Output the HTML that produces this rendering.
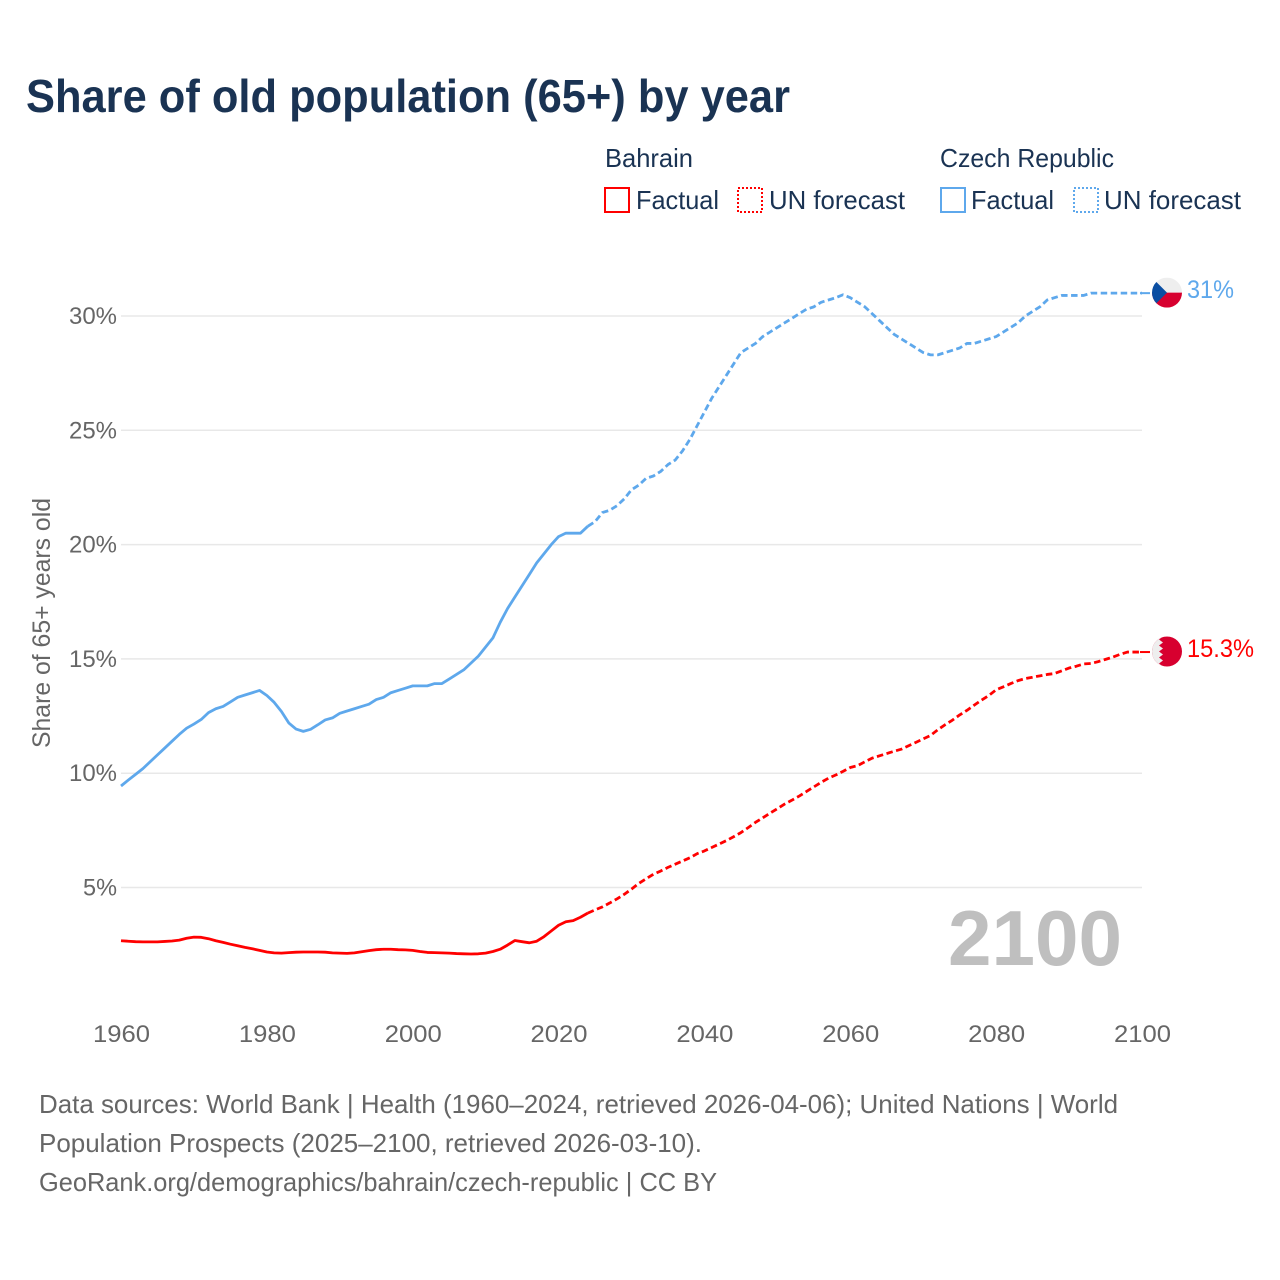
<!DOCTYPE html>
<html lang="en">
<head>
<meta charset="utf-8">
<title>Share of old population (65+) by year</title>
<style>
html,body{margin:0;padding:0;background:#fff;width:1280px;height:1280px;overflow:hidden}
svg{display:block}
text{font-family:"Liberation Sans",sans-serif}
</style>
</head>
<body>
<svg id="chart" xmlns="http://www.w3.org/2000/svg" width="1280" height="1280" viewBox="0 0 1280 1280">
  <rect width="1280" height="1280" fill="#fff"/>
  <text x="26" y="112" font-size="46" font-weight="700" fill="#1a3353" textLength="764" lengthAdjust="spacingAndGlyphs">Share of old population (65+) by year</text>

  <g font-size="26" fill="#1a3353">
    <text x="605" y="167" textLength="88" lengthAdjust="spacingAndGlyphs">Bahrain</text>
    <text x="940" y="167" textLength="174" lengthAdjust="spacingAndGlyphs">Czech Republic</text>
    <rect x="605" y="188" width="24" height="24" fill="none" stroke="#ff0000" stroke-width="2"/>
    <text x="636" y="209" textLength="83" lengthAdjust="spacingAndGlyphs">Factual</text>
    <rect x="738" y="188" width="24" height="24" fill="none" stroke="#ff0000" stroke-width="2" stroke-dasharray="2 2"/>
    <text x="769" y="209" textLength="136" lengthAdjust="spacingAndGlyphs">UN forecast</text>
    <rect x="941" y="188" width="24" height="24" fill="none" stroke="#5ea8ec" stroke-width="2"/>
    <text x="971" y="209" textLength="83" lengthAdjust="spacingAndGlyphs">Factual</text>
    <rect x="1074" y="188" width="24" height="24" fill="none" stroke="#5ea8ec" stroke-width="2" stroke-dasharray="2 2"/>
    <text x="1104" y="209" textLength="137" lengthAdjust="spacingAndGlyphs">UN forecast</text>
  </g>

  <g id="grid"></g>
  <g id="yticks"></g>
  <g id="xticks"></g>
  <text transform="translate(50 623) rotate(-90)" text-anchor="middle" font-size="25" fill="#666" textLength="250" lengthAdjust="spacingAndGlyphs">Share of 65+ years old</text>
  <text x="948" y="965" font-size="78" font-weight="700" fill="#bfbfbf" textLength="174" lengthAdjust="spacingAndGlyphs">2100</text>

  <g id="series"></g>

  <defs>
    <clipPath id="flag-clip"><circle cx="0" cy="0" r="15"/></clipPath>
  </defs>
  <g id="flag-cz">
    <g clip-path="url(#flag-clip)">
      <rect x="-15" y="-15" width="30" height="15" fill="#eeeeee"/>
      <rect x="-15" y="0" width="30" height="15" fill="#d7002f"/>
      <path d="M-15 -15 L0 0 L-15 15 Z" fill="#0b4ea2"/>
    </g>
  </g>
  <g id="flag-bh">
    <g clip-path="url(#flag-clip)">
      <rect x="-15" y="-15" width="30" height="30" fill="#d7002f"/>
      <path d="M-15 -15 H-4 L-8 -12 L-4 -9 L-8 -6 L-4 -3 L-8 0 L-4 3 L-8 6 L-4 9 L-8 12 L-4 15 H-15 Z" fill="#eeeeee"/>
    </g>
  </g>
  <text id="label-cz" x="1187" font-size="25" fill="#5ea8ec" textLength="47" lengthAdjust="spacingAndGlyphs"></text>
  <text id="label-bh" x="1187" font-size="25" fill="#ff0000" textLength="67" lengthAdjust="spacingAndGlyphs"></text>

  <g font-size="26" fill="#666">
    <text x="39" y="1113" textLength="1079" lengthAdjust="spacingAndGlyphs">Data sources: World Bank | Health (1960–2024, retrieved 2026-04-06); United Nations | World</text>
    <text x="39" y="1152" textLength="663" lengthAdjust="spacingAndGlyphs">Population Prospects (2025–2100, retrieved 2026-03-10).</text>
    <text x="39" y="1191" textLength="678" lengthAdjust="spacingAndGlyphs">GeoRank.org/demographics/bahrain/czech-republic | CC BY</text>
  </g>
</svg>
<script>
const startYear = 1960;
const lastFactualYear = 2024;
const yTicks = [5, 10, 15, 20, 25, 30];
const xTicks = [1960, 1980, 2000, 2020, 2040, 2060, 2080, 2100];
const czechValues = [
  9.44, 9.7, 9.95, 10.2, 10.5, 10.8, 11.1, 11.4, 11.7, 11.97,
  12.15, 12.35, 12.65, 12.82, 12.92, 13.12, 13.32, 13.42, 13.52, 13.62,
  13.4, 13.1, 12.7, 12.2, 11.93, 11.83, 11.92, 12.12, 12.33, 12.42,
  12.62, 12.72, 12.82, 12.92, 13.02, 13.22, 13.32, 13.52, 13.62, 13.72,
  13.82, 13.82, 13.82, 13.92, 13.92, 14.12, 14.32, 14.52, 14.82, 15.12,
  15.52, 15.92, 16.6, 17.2, 17.7, 18.2, 18.7, 19.2, 19.6, 20.0,
  20.35, 20.5, 20.5, 20.5, 20.8, 21.0, 21.4, 21.5, 21.7, 22.0,
  22.4, 22.6, 22.9, 23.0, 23.2, 23.5, 23.7, 24.1, 24.6, 25.2,
  25.8, 26.4, 26.9, 27.4, 27.9, 28.4, 28.6, 28.8, 29.1, 29.3,
  29.5, 29.7, 29.9, 30.1, 30.3, 30.4, 30.6, 30.7, 30.8, 30.93,
  30.8, 30.6, 30.4, 30.1, 29.8, 29.5, 29.2, 29.0, 28.8, 28.6,
  28.4, 28.3, 28.3, 28.4, 28.5, 28.6, 28.8, 28.8, 28.9, 29.0,
  29.1, 29.3, 29.5, 29.7, 30.0, 30.2, 30.4, 30.7, 30.8, 30.9,
  30.9, 30.9, 30.9, 31.0, 31.0, 31.0, 31.0, 31.0, 31.0, 31.0,
  31.0
];
const bahrainValues = [
  2.67, 2.65, 2.63, 2.62, 2.62, 2.62, 2.64, 2.66, 2.7, 2.78,
  2.83, 2.82, 2.76, 2.67, 2.6, 2.52, 2.45, 2.38, 2.32, 2.25,
  2.18, 2.14, 2.13, 2.15, 2.17, 2.18, 2.18, 2.18, 2.17, 2.14,
  2.13, 2.12, 2.14, 2.19, 2.24, 2.28, 2.3, 2.3, 2.28, 2.27,
  2.25, 2.2, 2.16, 2.15, 2.14, 2.13, 2.11, 2.1, 2.09, 2.1,
  2.13, 2.2, 2.3, 2.48, 2.68, 2.63, 2.58, 2.65, 2.85, 3.1,
  3.35, 3.5, 3.55, 3.7, 3.88, 4.02, 4.15, 4.32, 4.5, 4.7,
  4.93, 5.18, 5.38, 5.58, 5.72, 5.88, 6.02, 6.16, 6.3, 6.48,
  6.6, 6.75, 6.9, 7.05, 7.22, 7.4, 7.62, 7.85, 8.05, 8.25,
  8.45, 8.65, 8.82, 9.0, 9.2, 9.4, 9.6, 9.78, 9.92, 10.08,
  10.25, 10.33, 10.5, 10.66, 10.76, 10.86, 10.96, 11.05, 11.2, 11.35,
  11.5, 11.65, 11.9, 12.12, 12.32, 12.55, 12.75, 12.98, 13.2, 13.4,
  13.65, 13.78, 13.92, 14.05, 14.14, 14.2, 14.26, 14.32, 14.36, 14.48,
  14.6, 14.68, 14.78, 14.8, 14.88, 14.98, 15.08, 15.2, 15.3, 15.3,
  15.3
];
const czechEndLabel = '31%';
const bahrainEndLabel = '15.3%';

const NS = 'http://www.w3.org/2000/svg';
const X0 = 121, X1 = 1142, YEAR0 = 1960, YEAR1 = 2100;
const Y30 = 316, PER_UNIT = 22.86;
const xScale = function (year) { return X0 + (year - YEAR0) * (X1 - X0) / (YEAR1 - YEAR0); };
const yScale = function (v) { return Y30 + (30 - v) * PER_UNIT; };
const make = function (tag, attrs) {
  const el = document.createElementNS(NS, tag);
  for (const k in attrs) el.setAttribute(k, attrs[k]);
  return el;
};

const grid = document.getElementById('grid');
const yG = document.getElementById('yticks');
yTicks.forEach(function (t) {
  const line = make('line', { x1: X0, x2: X1, y1: yScale(t), y2: yScale(t), stroke: '#e8e8e8', 'stroke-width': 1.5 });
  
  
  grid.appendChild(line);
  const label = t + '%';
  const lab = make('text', { x: 117 - (label.length === 2 ? 34 : 48), y: yScale(t) + 8, 'font-size': 24, fill: '#666', textLength: label.length === 2 ? 34 : 48, lengthAdjust: 'spacingAndGlyphs' });
  
  
  lab.textContent = label;
  yG.appendChild(lab);
});

const xG = document.getElementById('xticks');
xTicks.forEach(function (t) {
  const lab = make('text', { x: xScale(t) + 0.5 - 28.5, y: 1042, 'font-size': 24, fill: '#666', textLength: 57, lengthAdjust: 'spacingAndGlyphs' });
  
  
  lab.textContent = String(t);
  xG.appendChild(lab);
});

const seriesG = document.getElementById('series');
const drawSeries = function (values, color, factualName, forecastName, leaderName) {
  const splitIndex = lastFactualYear - startYear;
  const pts = values.map(function (v, i) { return xScale(startYear + i).toFixed(2) + ',' + yScale(v).toFixed(2); });
  const solid = make('polyline', { points: pts.slice(0, splitIndex + 1).join(' '), fill: 'none', stroke: color, 'stroke-width': 2.8, 'stroke-linejoin': 'round' });
  
  
  seriesG.appendChild(solid);
  const dashed = make('polyline', { points: pts.slice(splitIndex).join(' '), fill: 'none', stroke: color, 'stroke-width': 2.8, 'stroke-dasharray': '6.5 3.5', 'stroke-linejoin': 'round' });
  
  
  seriesG.appendChild(dashed);
  const endY = yScale(values[values.length - 1]);
  const leader = make('line', { x1: xScale(startYear + values.length - 1) - 2, x2: xScale(startYear + values.length - 1) + 8, y1: endY, y2: endY, stroke: color, 'stroke-width': 2 });
  
  
  seriesG.appendChild(leader);
};
drawSeries(czechValues, '#5ea8ec', 'czech-factual-line', 'czech-forecast-line', 'czech-flag-leader');
drawSeries(bahrainValues, '#ff0000', 'bahrain-factual-line', 'bahrain-forecast-line', 'bahrain-flag-leader');

const czLast = czechValues[czechValues.length - 1];
const bhLast = bahrainValues[bahrainValues.length - 1];
const endYear = startYear + czechValues.length - 1;
const flagX = xScale(endYear) + 25;
document.getElementById('flag-cz').setAttribute('transform', 'translate(' + flagX + ' ' + (yScale(czLast) - 0.5) + ')');
document.getElementById('flag-bh').setAttribute('transform', 'translate(' + flagX + ' ' + (yScale(bhLast) - 0.5) + ')');
const labelCz = document.getElementById('label-cz');
labelCz.setAttribute('y', yScale(czLast) + 5);
labelCz.textContent = czechEndLabel;
const labelBh = document.getElementById('label-bh');
labelBh.setAttribute('y', yScale(bhLast) + 5);
labelBh.textContent = bahrainEndLabel;
</script>
</body>
</html>
